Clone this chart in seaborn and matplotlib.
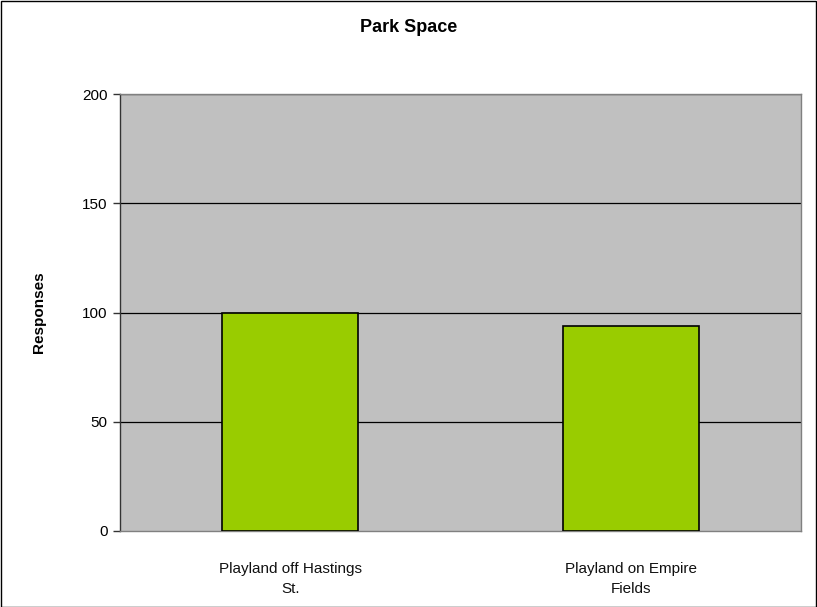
import matplotlib
matplotlib.use("Agg")
import matplotlib.pyplot as plt
import seaborn as sns
import pandas as pd

categories = ["Playland off Hastings\nSt.", "Playland on Empire\nFields"]
responses = [100, 94]
yticks = [0, 50, 100, 150, 200]

sns.set_theme(style="white")
plt.rcParams['font.family'] = ['Liberation Sans', 'DejaVu Sans']
plt.rcParams['text.color'] = 'black'
plt.rcParams['axes.labelcolor'] = 'black'
plt.rcParams['xtick.color'] = 'black'
plt.rcParams['ytick.color'] = 'black'

df = pd.DataFrame({"cat": categories, "val": responses})

fig = plt.figure(figsize=(8.17, 6.07), dpi=100)
fig.patch.set_facecolor("white")
ax = fig.add_axes([120/817, 1-531/607, (801-120)/817, (531-94)/607])
ax.set_facecolor("#C0C0C0")

sns.barplot(data=df, x="cat", y="val", color="#99CC00", width=0.4,
            edgecolor="black", linewidth=1.2, saturation=1, ax=ax, zorder=3)

ax.set_ylim(0, 200)
ax.set_xlim(-0.5, 1.5)
ax.set_yticks(yticks)
ax.set_yticklabels([str(t) for t in yticks], fontsize=11, color="black")
for t in yticks[1:]:
    ax.axhline(t, color="black", lw=0.9, zorder=1)

ax.tick_params(axis="y", length=5, width=1, color="#333333", pad=4, left=True)
ax.tick_params(axis="x", length=0, pad=22, labelsize=11)
for lbl in ax.get_xticklabels():
    lbl.set_color("#111111")
    lbl.set_linespacing(1.55)

ax.spines["left"].set_color("#333333")
for s in ["bottom", "right", "top"]:
    ax.spines[s].set_color("#808080")
for s in ax.spines.values():
    s.set_linewidth(1)
    s.set_visible(True)

ax.set_xlabel("")
ax.set_ylabel("Responses", fontsize=11, fontweight="bold", labelpad=26, color="black")
fig.text(0.5, 1-28/607, "Park Space", ha="center", va="center",
         fontsize=13, fontweight="bold", color="black")

# figure border
fig.add_artist(plt.Rectangle((0.5/817, 0.5/607), 815.5/817, 606/607,
                             transform=fig.transFigure, fill=False,
                             edgecolor="black", lw=1))

fig.savefig("out.png", dpi=100)
